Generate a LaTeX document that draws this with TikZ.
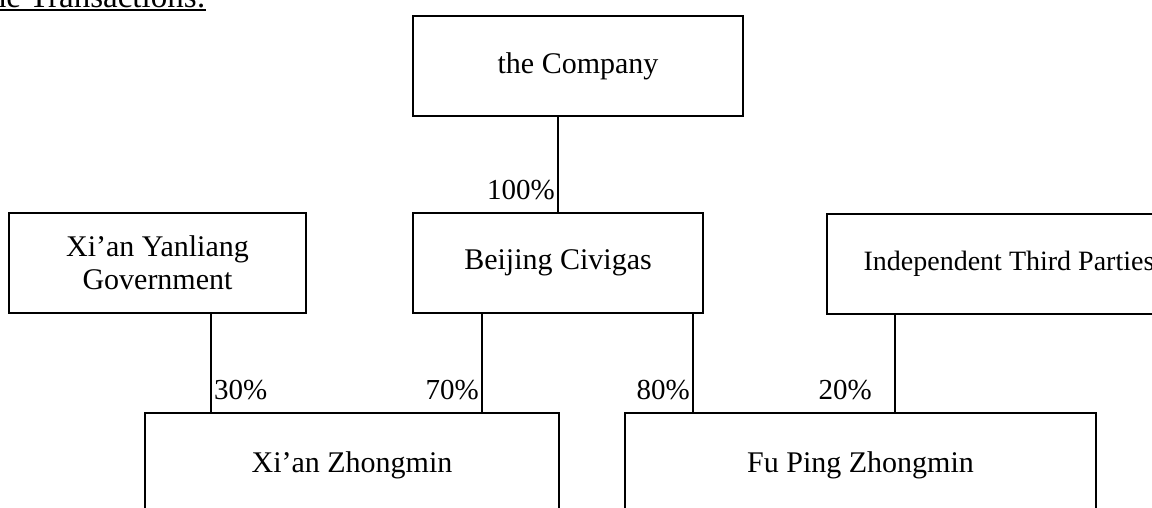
\documentclass[tikz,border=0pt]{standalone}
\usepackage{fontspec}
\setmainfont{Liberation Serif}
\newcommand\thickul[1]{\setbox0\hbox{#1}\rlap{\raisebox{-3pt}{\rule{\wd0}{2pt}}}\box0}
\begin{document}
\begin{tikzpicture}[x=1pt,y=-1pt,
  box/.style={draw,line width=2pt,rectangle,inner sep=0pt,align=center,
    font=\fontsize{30}{33}\selectfont},
  pct/.style={inner sep=0pt,font=\fontsize{29}{32}\selectfont},
  link/.style={line width=2pt}]
\useasboundingbox (0,0) rectangle (1152,507);
\node[anchor=base east,inner sep=0pt,font=\fontsize{33}{36}\selectfont] (hdr) at (206,7.5) {\thickul{The Transactions:}};
\node[box,minimum width=330pt,minimum height=100pt] (company) at (578,66) {the Company};
\node[box,minimum width=290pt,minimum height=100pt] (beijing) at (558,263) {Beijing Civigas};
\node[box,minimum width=297pt,minimum height=100pt] (yanliang) at (157.5,263) {Xi’an Yanliang\\Government};
\node[box,minimum width=364pt,minimum height=100pt,font=\fontsize{28}{32}\selectfont] (indep) at (1009,264) {Independent Third Parties};
\node[box,minimum width=414pt,minimum height=104pt] (xzm) at (352,465) {Xi’an Zhongmin};
\node[box,minimum width=471pt,minimum height=104pt] (fpz) at (860.5,465) {Fu Ping Zhongmin};
\coordinate (x30) at (211,0);
\coordinate (x70) at (482,0);
\coordinate (x80) at (693,0);
\coordinate (x20) at (895,0);
\draw[link] (beijing.north |- company.south) -- (beijing.north);
\draw[link] (x30 |- yanliang.south) -- (x30 |- xzm.north);
\draw[link] (x70 |- beijing.south) -- (x70 |- xzm.north);
\draw[link] (x80 |- beijing.south) -- (x80 |- fpz.north);
\draw[link] (x20 |- indep.south) -- (x20 |- fpz.north);
\node[pct,anchor=base east] (p100) at (555,199) {100\%};
\node[pct,anchor=base west] (p30) at (214,399) {30\%};
\node[pct,anchor=base east] (p70) at (479,399) {70\%};
\node[pct,anchor=base east] (p80) at (690,399) {80\%};
\node[pct,anchor=base east] (p20) at (872,399) {20\%};
\end{tikzpicture}
\end{document}
